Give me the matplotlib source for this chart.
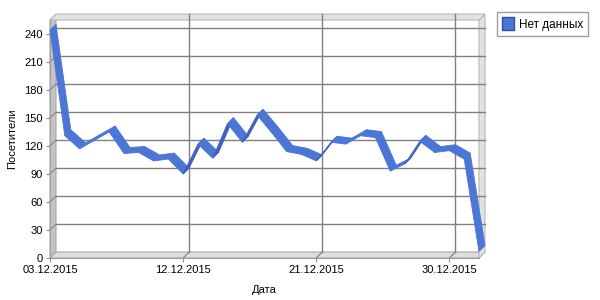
import numpy as np
import matplotlib
matplotlib.use("Agg")
import matplotlib.pyplot as plt
from matplotlib.patches import Polygon, Patch

plt.rcParams['font.family'] = ['Liberation Sans', 'DejaVu Sans']

# visitors per day, 03.12.2015 .. 01.01.2016
days = np.arange(30)
visitors = [244, 131, 117, 126, 135, 112, 113, 104, 106, 90,
            122, 107, 144, 124, 153, 134, 114, 111, 104, 124,
            122, 131, 129, 93, 101, 125, 113, 115, 106, 7]
tick_days = [0, 9, 18, 27]
tick_labels = ['03.12.2015', '12.12.2015', '21.12.2015', '30.12.2015']
y_ticks = list(range(0, 241, 30))
series_name = 'Нет данных'

light = '#4b76d6'
dark = '#3c61c0'
grid_c = '#808080'
depth = 6  # px, 3d offset to upper right

fig = plt.figure(figsize=(6, 3), dpi=100)
ax = fig.add_axes([50 / 600, 42 / 300, 429 / 600, 238 / 300])
ax.set_xlim(0, 29)
ax.set_ylim(0, 255)
ax.patch.set_visible(False)


def shift(xs, ys, dx=depth, dy=depth):
    pts = ax.transData.transform(np.column_stack([xs, ys]).astype(float))
    pts += [dx, dy]
    return ax.transData.inverted().transform(pts)


def quad(xs, ys, **kw):
    front = np.column_stack([xs, ys]).astype(float)
    back = shift(xs, ys)[::-1]
    p = Polygon(np.vstack([front, back]), closed=True, clip_on=False, **kw)
    ax.add_patch(p)
    return p


x0, x1 = ax.get_xlim()
y0, y1 = ax.get_ylim()

# back wall
bw = shift([x0, x1, x1, x0], [y0, y0, y1, y1])
ax.add_patch(Polygon(bw, closed=True, fc='white', ec='none', clip_on=False, zorder=0))

# walls
quad([x0, x0], [y0, y1], fc='#c4c4c4', ec='#a8a8a8', lw=0.8, zorder=1)
quad([x0, x1], [y0, y0], fc='#dedede', ec='#a8a8a8', lw=0.8, zorder=1)
quad([x1, x1], [y0, y1], fc='#e2e2e2', ec='#b8b8b8', lw=0.8, zorder=1)
quad([x0, x1], [y1, y1], fc='#e2e2e2', ec='#b8b8b8', lw=0.8, zorder=1)

# gridlines on back wall and their diagonals on the walls
for v in y_ticks[1:]:
    g = shift([x0, x1], [v, v])
    ax.plot(g[:, 0], g[:, 1], color=grid_c, lw=1, clip_on=False, zorder=2)
    d = np.vstack([[x0, v], shift([x0], [v])])
    ax.plot(d[:, 0], d[:, 1], color=grid_c, lw=0.8, clip_on=False, zorder=2)
for t in tick_days[1:]:
    g = shift([t, t], [y0, y1])
    ax.plot(g[:, 0], g[:, 1], color=grid_c, lw=1, clip_on=False, zorder=2)
    d = np.vstack([[t, y0], shift([t], [y0])])
    ax.plot(d[:, 0], d[:, 1], color=grid_c, lw=0.8, clip_on=False, zorder=2)

# ribbon
pix = ax.transData.transform(np.column_stack([days, visitors]).astype(float))
for i in range(len(days) - 1):
    sx, sy = pix[i + 1] - pix[i]
    col = light if sx > sy else dark
    quad(days[i:i + 2], visitors[i:i + 2], fc=col, ec=col, lw=0.6, zorder=3)

for s in ['top', 'right']:
    ax.spines[s].set_visible(False)
for s in ['left', 'bottom']:
    ax.spines[s].set_color('#a0a0a0')

ax.set_xticks(tick_days)
ax.set_xticklabels(tick_labels)
ax.set_yticks(y_ticks)
ax.tick_params(labelsize=8, colors='black', length=3, width=0.8, pad=2)
ax.tick_params(axis='both', color='#909090')
ax.set_xlabel('Дата', fontsize=8, labelpad=7)
ax.set_ylabel('Посетители', fontsize=8, labelpad=5)

ax.legend(handles=[Patch(fc=light, ec='#2f4f9f', label=series_name)],
          loc='upper left', bbox_to_anchor=(497 / 600, 1 - 12 / 300),
          bbox_transform=fig.transFigure, fontsize=8.5, fancybox=False,
          framealpha=1, edgecolor='#a0a0a0', handlelength=1.0, handleheight=1.3,
          handletextpad=0.4, borderpad=0.45, borderaxespad=0)

fig.savefig('out.png', dpi=100)
